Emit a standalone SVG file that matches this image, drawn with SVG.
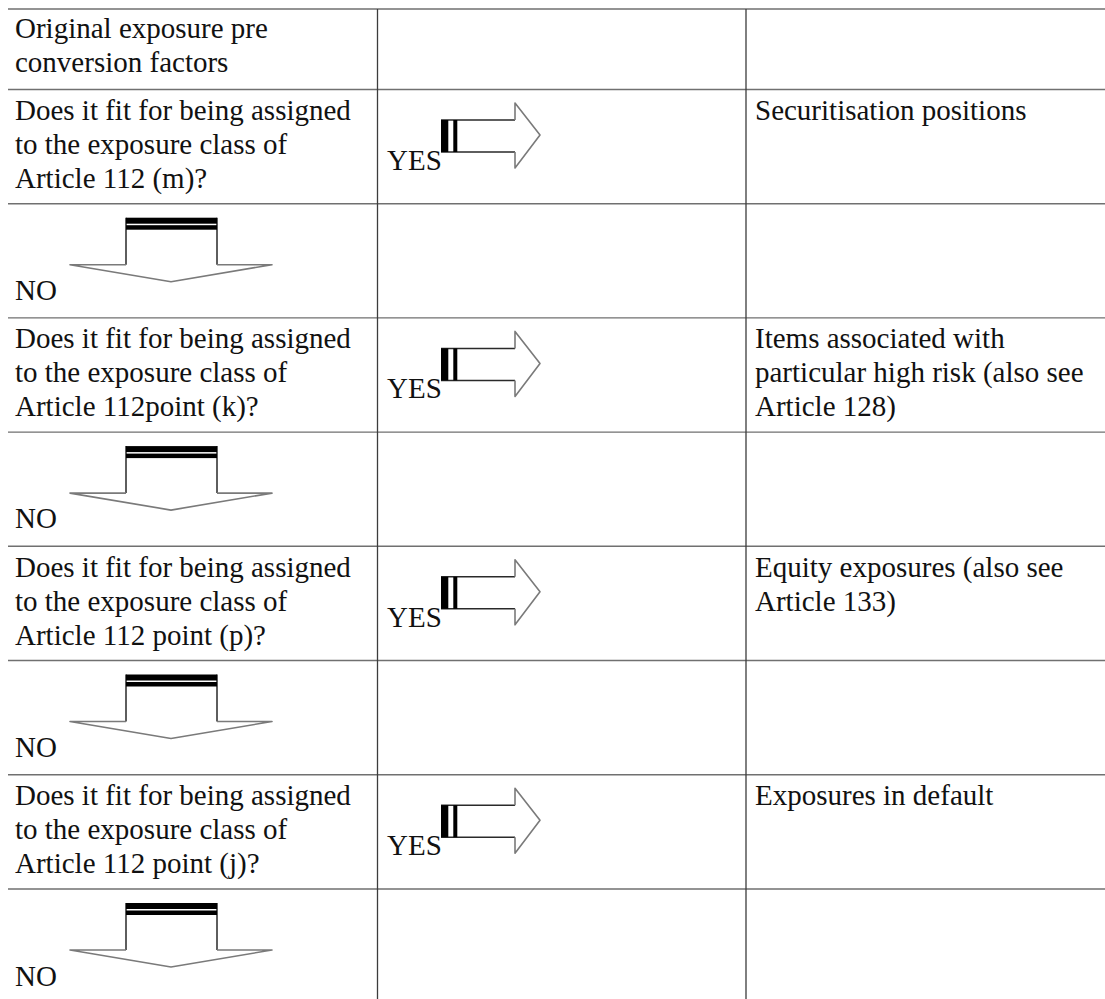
<svg xmlns="http://www.w3.org/2000/svg" width="1105" height="999" viewBox="0 0 1105 999">
<defs>
<style>
.t{font-family:"Liberation Serif","Times New Roman",serif;font-size:29px;fill:#111}
.h{stroke:#707070;stroke-width:1.4;fill:none}
.v{stroke:#3c3c3c;stroke-width:1.3;fill:none}
.fill{fill:#fff;stroke:none}
.sh{stroke:#2a2a2a;stroke-width:1.5;fill:none}
.hd{stroke:#7a7a7a;stroke-width:1.6;fill:none;stroke-linejoin:round}
</style>
<g id="yesArrow">
<path class="fill" d="M441,30.5 H515 V13.5 L540,45.5 L515,78.5 V62.5 H441 Z"/>
<path class="sh" d="M441,30.5 H515 M441,62.5 H515"/>
<path class="hd" d="M515,30.5 V13.5 L540,45.5 L515,78.5 V62.5"/>
<rect x="441" y="30.5" width="7.3" height="32" fill="#000"/>
<rect x="453.3" y="30.5" width="4" height="32" fill="#000"/>
</g>
<g id="noArrow">
<path class="fill" d="M126,14 V61 H70 L171,78 L272,61 H217 V14 Z"/>
<path class="sh" d="M126,14 V61 M217,14 V61"/>
<path class="hd" d="M126,61 H70 L171,78 L272,61 H217"/>
<rect x="126" y="14" width="91" height="6" fill="#000"/>
<rect x="126" y="21.5" width="91" height="4.5" fill="#000"/>
</g>
</defs>
<rect width="1105" height="999" fill="#fff"/>

<g id="grid">
<path class="h" d="M8,9 H1105 M8,89.5 H1105 M8,203.7 H1105 M8,317.9 H1105 M8,432.1 H1105 M8,546.3 H1105 M8,660.5 H1105 M8,774.7 H1105 M8,889 H1105"/>
<path class="v" d="M377.5,9 V999 M746,9 V999"/>
</g>

<g id="connectors">
<use href="#yesArrow" transform="translate(0,89.5)"/>
<use href="#noArrow" transform="translate(0,203.7)"/>
<use href="#yesArrow" transform="translate(0,317.9)"/>
<use href="#noArrow" transform="translate(0,432.1)"/>
<use href="#yesArrow" transform="translate(0,546.3)"/>
<use href="#noArrow" transform="translate(0,660.5)"/>
<use href="#yesArrow" transform="translate(0,774.7)"/>
<use href="#noArrow" transform="translate(0,889)"/>
</g>

<g id="n-start"><text class="t" x="15" y="38">Original exposure pre</text><text class="t" x="15" y="72">conversion factors</text></g>

<g id="n-q1"><text class="t" x="15" y="120">Does it fit for being assigned</text><text class="t" x="15" y="154">to the exposure class of</text><text class="t" x="15" y="188">Article 112 (m)?</text></g>
<g id="n-yes1"><text class="t" x="387" y="170">YES</text></g>
<g id="n-r1"><text class="t" x="755" y="120">Securitisation positions</text></g>
<g id="n-no1"><text class="t" x="15" y="300">NO</text></g>

<g id="n-q2"><text class="t" x="15" y="348.4">Does it fit for being assigned</text><text class="t" x="15" y="382.4">to the exposure class of</text><text class="t" x="15" y="416.4">Article 112point (k)?</text></g>
<g id="n-yes2"><text class="t" x="387" y="398.4">YES</text></g>
<g id="n-r2"><text class="t" x="755" y="348.4">Items associated with</text><text class="t" x="755" y="382.4">particular high risk (also see</text><text class="t" x="755" y="416.4">Article 128)</text></g>
<g id="n-no2"><text class="t" x="15" y="528.4">NO</text></g>

<g id="n-q3"><text class="t" x="15" y="576.8">Does it fit for being assigned</text><text class="t" x="15" y="610.8">to the exposure class of</text><text class="t" x="15" y="644.8">Article 112 point (p)?</text></g>
<g id="n-yes3"><text class="t" x="387" y="626.8">YES</text></g>
<g id="n-r3"><text class="t" x="755" y="576.8">Equity exposures (also see</text><text class="t" x="755" y="610.8">Article 133)</text></g>
<g id="n-no3"><text class="t" x="15" y="756.8">NO</text></g>

<g id="n-q4"><text class="t" x="15" y="805.2">Does it fit for being assigned</text><text class="t" x="15" y="839.2">to the exposure class of</text><text class="t" x="15" y="873.2">Article 112 point (j)?</text></g>
<g id="n-yes4"><text class="t" x="387" y="855.2">YES</text></g>
<g id="n-r4"><text class="t" x="755" y="805.2">Exposures in default</text></g>
<g id="n-no4"><text class="t" x="15" y="985.5">NO</text></g>
</svg>
